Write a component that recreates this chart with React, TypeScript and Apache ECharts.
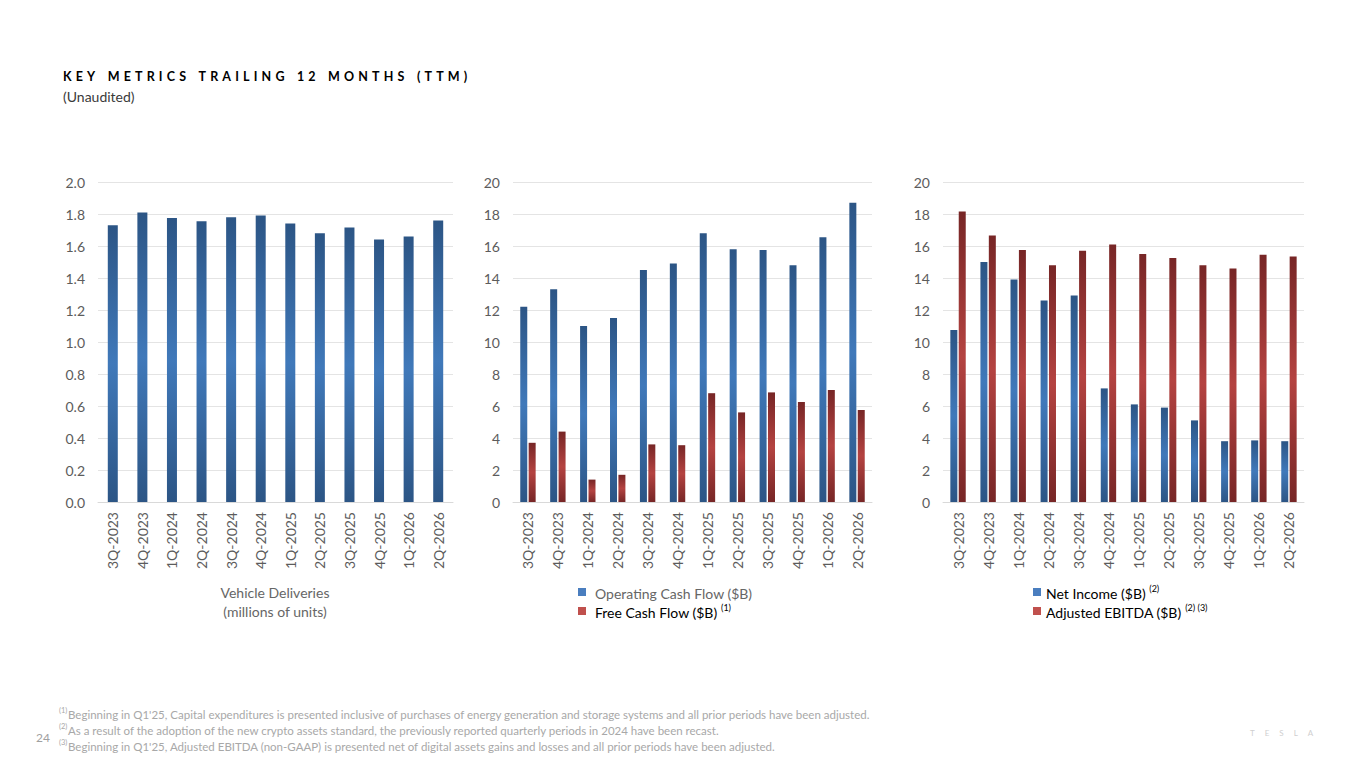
import React, { useEffect, useRef } from "react";
import * as echarts from "echarts";

const categories = ["3Q-2023","4Q-2023","1Q-2024","2Q-2024","3Q-2024","4Q-2024","1Q-2025","2Q-2025","3Q-2025","4Q-2025","1Q-2026","2Q-2026"];
const deliveries = [1.73,1.81,1.775,1.755,1.78,1.79,1.74,1.68,1.715,1.64,1.66,1.76];
const operatingCashFlow = [12.2,13.3,11.0,11.5,14.5,14.9,16.8,15.8,15.75,14.8,16.55,18.7];
const freeCashFlow = [3.7,4.4,1.4,1.7,3.6,3.55,6.8,5.6,6.85,6.25,7.0,5.75];
const netIncome = [10.75,15.0,13.9,12.6,12.9,7.1,6.1,5.9,5.1,3.8,3.85,3.8];
const adjustedEbitda = [18.15,16.65,15.75,14.8,15.7,16.1,15.5,15.25,14.8,14.6,15.45,15.35];

const FONT = "Lato, 'Liberation Sans', sans-serif";
const GRAY = "#5c5c5c";
const LEG = "#666666";
const SP = "\u2004";

const spaced = (s: string) =>
  s.split(" ").map((w) => w.split("").join(SP)).join(SP + SP + SP);

const blueGrad = () =>
  new echarts.graphic.LinearGradient(0, 0, 0, 1, [
    { offset: 0, color: "#2c5585" },
    { offset: 0.5, color: "#4079ba" },
    { offset: 1, color: "#2c5585" },
  ]);
const redGrad = () =>
  new echarts.graphic.LinearGradient(0, 0, 0, 1, [
    { offset: 0, color: "#772626" },
    { offset: 0.5, color: "#b44341" },
    { offset: 1, color: "#772626" },
  ]);

const grids = [
  { left: 98, width: 355, top: 182, height: 320 },
  { left: 513, width: 359, top: 182, height: 320 },
  { left: 943, width: 361, top: 182, height: 320 },
];

export default function App() {
  const ref = useRef<HTMLDivElement>(null);
  useEffect(() => {
    if (!ref.current) return;
    const chart = echarts.init(ref.current, undefined, { renderer: "svg" });

    const xAxis = grids.map((_, i) => ({
      type: "category",
      gridIndex: i,
      data: categories,
      axisTick: { show: false },
      axisLine: { lineStyle: { color: "#d9d9d9" } },
      axisLabel: { rotate: 90, fontSize: 14, color: GRAY, fontFamily: FONT, margin: 10 },
    }));
    const yAxis = grids.map((_, i) => ({
      type: "value",
      gridIndex: i,
      min: 0,
      max: i === 0 ? 2 : 20,
      interval: i === 0 ? 0.2 : 2,
      axisLine: { show: false },
      axisTick: { show: false },
      splitLine: { lineStyle: { color: "#e4e4e4" } },
      axisLabel: {
        fontSize: 14,
        color: GRAY,
        fontFamily: FONT,
        margin: 13,
        formatter: (v: number) => (i === 0 ? v.toFixed(1) : String(v)),
      },
    }));

    const text = (x: number, y: number, t: string, style: any = {}) => ({
      type: "text",
      x,
      y,
      style: { text: t, fontFamily: FONT, fontSize: 14, fill: LEG, verticalAlign: "middle", ...style },
    });

    const supRich = {
      a: { fontFamily: FONT, fontSize: 14, color: LEG, lineHeight: 18, verticalAlign: "middle" },
      s: { fontFamily: FONT, fontSize: 9, color: LEG, lineHeight: 9, verticalAlign: "top" },
    };
    const FN = "#a8a8a8";
    const footnote = (y: number, n: string, t: string) => [
      text(59, y - 4, n, { fontSize: 7.5, fill: FN }),
      text(68, y, t, { fontSize: 11.5, fill: FN }),
    ];

    const graphic: any[] = [
      {
        type: "text",
        x: 63,
        y: 76,
        style: {
          text: "{k|" + spaced("KEY METRICS") + "}{t|" + SP + SP + SP + spaced("TRAILING 12 MONTHS (TTM)") + "}",
          verticalAlign: "middle",
          rich: {
            k: { fontFamily: FONT, fontSize: 12.5, fontWeight: "bold", color: "#262626" },
            t: { fontFamily: FONT, fontSize: 12.5, fontWeight: "bold", color: "#8c8c8c" },
          },
        },
      },
      text(63, 96, "(Unaudited)", { fill: "#3a3a3a" }),
      text(275, 592, "Vehicle Deliveries", { align: "center" }),
      text(275, 611, "(millions of units)", { align: "center" }),
      { type: "rect", shape: { x: 578, y: 588, width: 8, height: 8 }, style: { fill: "#4a7ebf" } },
      text(595, 593, "Operating Cash Flow ($B)"),
      { type: "rect", shape: { x: 578, y: 607, width: 8, height: 8 }, style: { fill: "#c0504d" } },
      {
        type: "text", x: 595, y: 612,
        style: { text: "{a|Free Cash Flow ($B) }{s|(1)}", verticalAlign: "middle", rich: supRich },
      },
      { type: "rect", shape: { x: 1033, y: 588, width: 8, height: 8 }, style: { fill: "#4a7ebf" } },
      {
        type: "text", x: 1046, y: 593,
        style: { text: "{a|Net Income ($B) }{s|(2)}", verticalAlign: "middle", rich: supRich },
      },
      { type: "rect", shape: { x: 1033, y: 607, width: 8, height: 8 }, style: { fill: "#c0504d" } },
      {
        type: "text", x: 1046, y: 612,
        style: { text: "{a|Adjusted EBITDA ($B) }{s|(2) (3)}", verticalAlign: "middle", rich: supRich },
      },
      ...footnote(714, "(1)", "Beginning in Q1'25, Capital expenditures is presented inclusive of purchases of energy generation and storage systems and all prior periods have been adjusted."),
      ...footnote(730, "(2)", "As a result of the adoption of the new crypto assets standard, the previously reported quarterly periods in 2024 have been recast."),
      ...footnote(746, "(3)", "Beginning in Q1'25, Adjusted EBITDA (non-GAAP) is presented net of digital assets gains and losses and all prior periods have been adjusted."),
      text(36, 737, "24", { fontSize: 12, fill: "#a0a0a0" }),
      text(1250, 733, ["T", "E", "S", "L", "A"].join("\u2003\u2002"), { fontSize: 8, fill: "#cfcfcf" }),
    ];

    chart.setOption({
      animation: false,
      grid: grids,
      xAxis,
      yAxis,
      graphic,
      series: [
        { type: "bar", xAxisIndex: 0, yAxisIndex: 0, data: deliveries, barWidth: 10, itemStyle: { color: blueGrad() } },
        { type: "bar", name: "Operating Cash Flow ($B)", xAxisIndex: 1, yAxisIndex: 1, data: operatingCashFlow, barWidth: 7, barGap: "20%", itemStyle: { color: blueGrad() } },
        { type: "bar", name: "Free Cash Flow ($B)", xAxisIndex: 1, yAxisIndex: 1, data: freeCashFlow, barWidth: 7, barGap: "20%", itemStyle: { color: redGrad() } },
        { type: "bar", name: "Net Income ($B)", xAxisIndex: 2, yAxisIndex: 2, data: netIncome, barWidth: 7, barGap: "20%", itemStyle: { color: blueGrad() } },
        { type: "bar", name: "Adjusted EBITDA ($B)", xAxisIndex: 2, yAxisIndex: 2, data: adjustedEbitda, barWidth: 7, barGap: "20%", itemStyle: { color: redGrad() } },
      ],
    });
    return () => chart.dispose();
  }, []);

  return (
    <div
      ref={ref}
      style={{ position: "fixed", left: 0, top: 0, width: 1365, height: 768, background: "#ffffff" }}
    />
  );
}
